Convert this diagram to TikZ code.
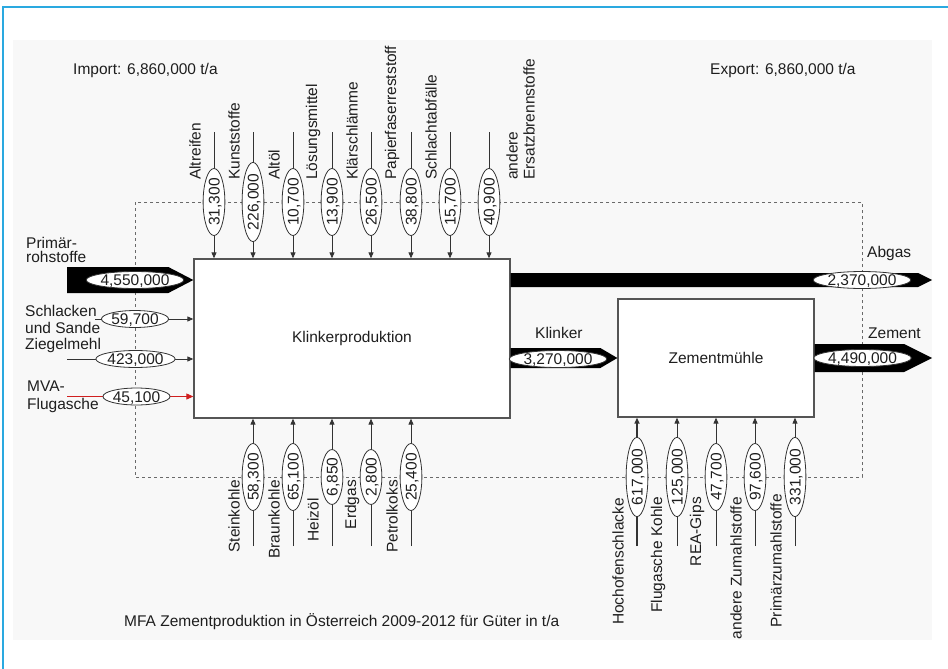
\documentclass[tikz,border=0pt]{standalone}
\usepackage{fontspec}
\setmainfont{Liberation Sans}
\usetikzlibrary{arrows.meta,calc,shapes.geometric}
\definecolor{lc}{HTML}{333333}
\definecolor{txt}{HTML}{1E1E1E}
\definecolor{boxc}{HTML}{555555}
\definecolor{sysc}{HTML}{6A6A6A}
\definecolor{bgc}{HTML}{F8F8F8}
\definecolor{framec}{HTML}{2AA9E0}
\definecolor{redc}{HTML}{D01F1F}
\newcommand\bigflow[4]{%
  \fill[black] ($(#1)+(0,#3)$) -- ($(#2)+(-#4,#3)$) -- (#2) -- ($(#2)+(-#4,-#3)$) -- ($(#1)+(0,-#3)$) -- cycle;}
\begin{document}
\begin{tikzpicture}[x=1pt,y=-1pt,
  font=\fontsize{15.5}{16}\selectfont,
  lbl/.style={inner sep=0pt, text=txt},
  rlbl/.style={lbl, rotate=90},
  proc/.style={draw=boxc, line width=1.3pt, fill=white, text=txt, inner sep=0pt},
  num/.style={ellipse, draw=lc, fill=white, line width=0.8pt, inner xsep=0pt,
              text height=11pt, text depth=0pt, text=txt},
  vnum/.style={num, rotate=90, inner ysep=2.2pt},
  hnum/.style={num, inner ysep=0.5pt},
  flow/.style={draw=lc, line width=0.9pt, -{Triangle[length=6pt,width=5pt]}},
  sys/.style={draw=sysc, line width=0.9pt, dash pattern=on 3pt off 3pt}]
\useasboundingbox (0,0) rectangle (948,669);
\fill[bgc] (13,40) rectangle (932,640);
\draw[framec, line width=2pt] (3,669) -- (3,7) -- (948,7);

% system boundary
\draw[sys] (135,202) rectangle (862,477);

% processes
\node[proc, minimum width=316pt, minimum height=159pt] (kp) at (352,338.5) {Klinkerproduktion};
\node[proc, minimum width=196pt, minimum height=118pt] (zm) at (716,358) {Zementmühle};

% top inputs to Klinkerproduktion
\foreach \i/\x/\v/\l in {1/214/{31,300}/Altreifen, 2/253/{226,000}/Kunststoffe,
  3/293/{10,700}/Altöl, 4/332/{13,900}/Lösungsmittel, 5/371/{26,500}/Klärschlämme,
  6/411/{38,800}/Papierfaserreststoff, 7/450/{15,700}/Schlachtabfälle, 8/489/{40,900}/{}} {
  \coordinate (ti\i) at (\x,132);
  \draw[flow] (ti\i) -- (ti\i |- kp.north);
  \node[vnum] (tv\i) at (\x,202) {\v};
  \node[rlbl, anchor=west] (tl\i) at (\x-19,180) {\l};
}
\node[rlbl, anchor=west, align=left, font=\fontsize{15.5}{17}\selectfont] (tl8b) at (520.5,180) {andere\\Ersatzbrennstoffe};

% bottom inputs to Klinkerproduktion
\foreach \i/\x/\t/\v/\l in {1/253/480/{58,300}/Steinkohle, 2/293/480/{65,100}/Braunkohle,
  3/332/498/{6,850}/Heizöl, 4/371/480/{2,800}/Erdgas, 5/411/480/{25,400}/Petrolkoks} {
  \coordinate (bi\i) at (\x,546);
  \draw[flow] (bi\i) -- (bi\i |- kp.south);
  \node[vnum] (bv\i) at (\x,477) {\v};
  \node[rlbl, anchor=east] (bl\i) at (\x-19,\t) {\l};
}

% bottom inputs to Zementmühle
\foreach \i/\x/\w/\t/\v/\l in {1/637/2.4/498/{617,000}/Hochofenschlacke, 2/677/0.9/497/{125,000}/Flugasche Kohle,
  3/716/0.9/497/{47,700}/REA-Gips, 4/755/0.9/497/{97,600}/andere Zumahlstoffe, 5/795/0.9/494/{331,000}/Primärzumahlstoffe} {
  \coordinate (zi\i) at (\x,546);
  \draw[flow, line width=\w pt] (zi\i) -- (zi\i |- zm.south);
  \node[vnum] (zv\i) at (\x,477) {\v};
  \node[rlbl, anchor=east] (zl\i) at (\x-19,\t) {\l};
}

% left inputs
\coordinate (pa) at (67,280);
\coordinate (sa) at (95,319);
\coordinate (za) at (67,359);
\coordinate (ma) at (67,396.5);
\coordinate (ae) at (932,280);
\coordinate (ze) at (932,358);
\bigflow{pa}{pa -| kp.west}{13}{25}
\draw[flow] (sa) -- (sa -| kp.west);
\draw[flow] (za) -- (za -| kp.west);
\draw[flow, draw=redc, -{Triangle[length=7pt,width=6pt,fill=redc]}] (ma) -- (ma -| kp.west);

% outputs
\bigflow{kp.east |- ae}{ae}{7}{14}
\bigflow{kp.east |- zm.west}{zm.west}{10}{17}
\bigflow{zm.east}{ze}{14}{28}

% flow values
\node[hnum] (pv) at (135,280) {4,550,000};
\node[hnum] (sv) at (135,319) {59,700};
\node[hnum] (zv) at (135.5,359) {423,000};
\node[hnum] (mv) at (136.5,396.5) {45,100};
\node[hnum] (kv) at (558,359) {3,270,000};
\node[hnum] (av) at (862,280) {2,370,000};
\node[hnum] (zev) at (862.5,358) {4,490,000};

% labels
\node[lbl, anchor=west, align=left, font=\fontsize{15.5}{14}\selectfont] (plbl) at (26,250) {Primär-\\rohstoffe};
\node[lbl, anchor=west, align=left, font=\fontsize{15.5}{16.7}\selectfont] (slbl) at (25,319.5) {Schlacken\\und Sande};
\node[lbl, anchor=west] (zlbl) at (25,345) {Ziegelmehl};
\node[lbl, anchor=west, align=left, font=\fontsize{15.5}{18}\selectfont] (mlbl) at (27,397) {MVA-\\Flugasche};
\node[lbl, anchor=west] (imp) at (73,70) {Import: 6,860,000 t/a};
\node[lbl, anchor=west] (exp) at (710,70) {Export: 6,860,000 t/a};
\node[lbl, anchor=west] (klbl) at (535,333) {Klinker};
\node[lbl, anchor=west] (albl) at (867,253) {Abgas};
\node[lbl, anchor=west] (zelbl) at (868,333) {Zement};
\node[lbl, anchor=west] (cap) at (124,622) {MFA Zementproduktion in Österreich 2009-2012 für Güter in t/a};
\end{tikzpicture}
\end{document}
